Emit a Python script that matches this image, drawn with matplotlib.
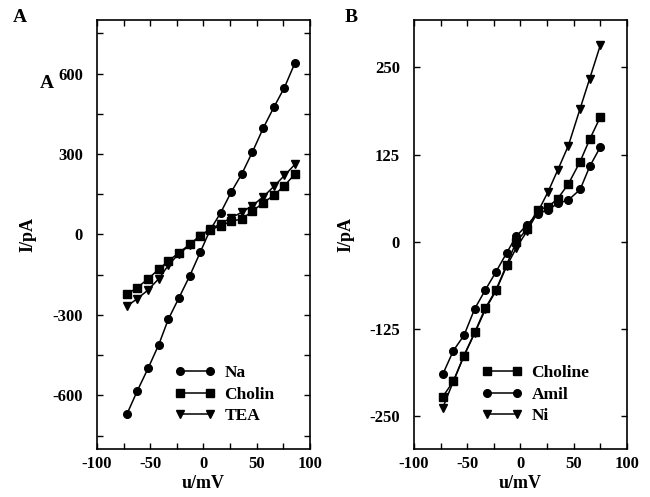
import matplotlib
matplotlib.use("Agg")
import matplotlib.pyplot as plt
from matplotlib.ticker import MultipleLocator

plt.rcParams['font.family'] = ['Liberation Serif', 'DejaVu Serif']
plt.rcParams['font.weight'] = 'bold'
plt.rcParams['axes.unicode_minus'] = False

# Panel A: I-V curves (u in mV, I in pA)
u_a = [-72, -62, -52, -42, -33, -23, -13, -3, 6, 16, 26, 36, 46, 56, 66, 76, 86]
na = [-671, -582, -499, -411, -316, -236, -155, -66, 15, 80, 158, 226, 308, 396, 474, 548, 641]
cholin = [-223, -198, -165, -130, -99, -68, -37, -4, 16, 33, 49, 58, 87, 118, 146, 182, 226]
tea = [-268, -239, -207, -165, -115, -71, -41, -4, 19, 40, 62, 83, 108, 140, 179, 220, 262]

# Panel B
u_b = [-73, -63, -53, -43, -33, -23, -13, -4, 6, 16, 26, 35, 45, 56, 65, 75]
choline = [-222, -200, -163, -130, -95, -69, -33, 0, 18, 46, 50, 62, 83, 115, 147, 179]
amil = [-190, -156, -134, -96, -69, -43, -16, 8, 24, 40, 46, 55, 60, 75, 108, 136]
ni = [-238, -200, -163, -131, -97, -70, -35, -9, 15, 42, 72, 103, 138, 191, 234, 282]

fig = plt.figure(figsize=(6.5, 4.97), dpi=100)
axA = fig.add_axes([0.1492, 0.0966, 0.3277, 0.8632])
axB = fig.add_axes([0.6369, 0.0966, 0.3277, 0.8632])

kw = dict(color='black', lw=1.1, markersize=5.5)
axA.plot(u_a, na, marker='o', label='Na', **kw)
axA.plot(u_a, cholin, marker='s', label='Cholin', **kw)
axA.plot(u_a, tea, marker='v', label='TEA', **kw)

axB.plot(u_b, choline, marker='s', label='Choline', **kw)
axB.plot(u_b, amil, marker='o', label='Amil', **kw)
axB.plot(u_b, ni, marker='v', label='Ni', **kw)

axA.set_ylim(-800, 800)
axA.yaxis.set_major_locator(MultipleLocator(300))
axA.yaxis.set_minor_locator(MultipleLocator(150))
axB.set_ylim(-297, 318)
axB.yaxis.set_major_locator(MultipleLocator(125))

for ax, legx, ylx in ((axA, 0.366, -0.286), (axB, 0.319, -0.282)):
    ax.set_xlim(-100, 100)
    ax.xaxis.set_major_locator(MultipleLocator(50))
    ax.xaxis.set_minor_locator(MultipleLocator(25))
    ax.tick_params(which='both', direction='in', top=True, right=True, labelsize=12)
    ax.tick_params(which='both', length=4, width=1)
    ax.tick_params(axis='y', pad=10)
    ax.tick_params(axis='x', pad=5)
    for s in ax.spines.values():
        s.set_linewidth(1.2)
    for lab in ax.get_xticklabels() + ax.get_yticklabels():
        lab.set_fontweight('bold')
    ax.set_xlabel('u/mV', fontsize=13, fontweight='bold')
    ax.set_ylabel('I/pA', fontsize=13, fontweight='bold')
    ax.yaxis.set_label_coords(ylx, 0.5)
    ax.xaxis.set_label_coords(0.5, -0.061)
    ax.legend(loc='upper left', bbox_to_anchor=(legx, 0.196), frameon=False,
              numpoints=2, handlelength=2.3, handletextpad=0.55,
              labelspacing=0.32, borderpad=0, borderaxespad=0,
              prop={'weight': 'bold', 'size': 12.5})

fig.text(13 / 650, 1 - 17 / 497, 'A', fontsize=14, fontweight='bold', va='center', ha='left')
fig.text(40 / 650, 1 - 84 / 497, 'A', fontsize=14, fontweight='bold', va='center', ha='left')
fig.text(345 / 650, 1 - 17 / 497, 'B', fontsize=14, fontweight='bold', va='center', ha='left')

fig.savefig('out.png', dpi=100)
